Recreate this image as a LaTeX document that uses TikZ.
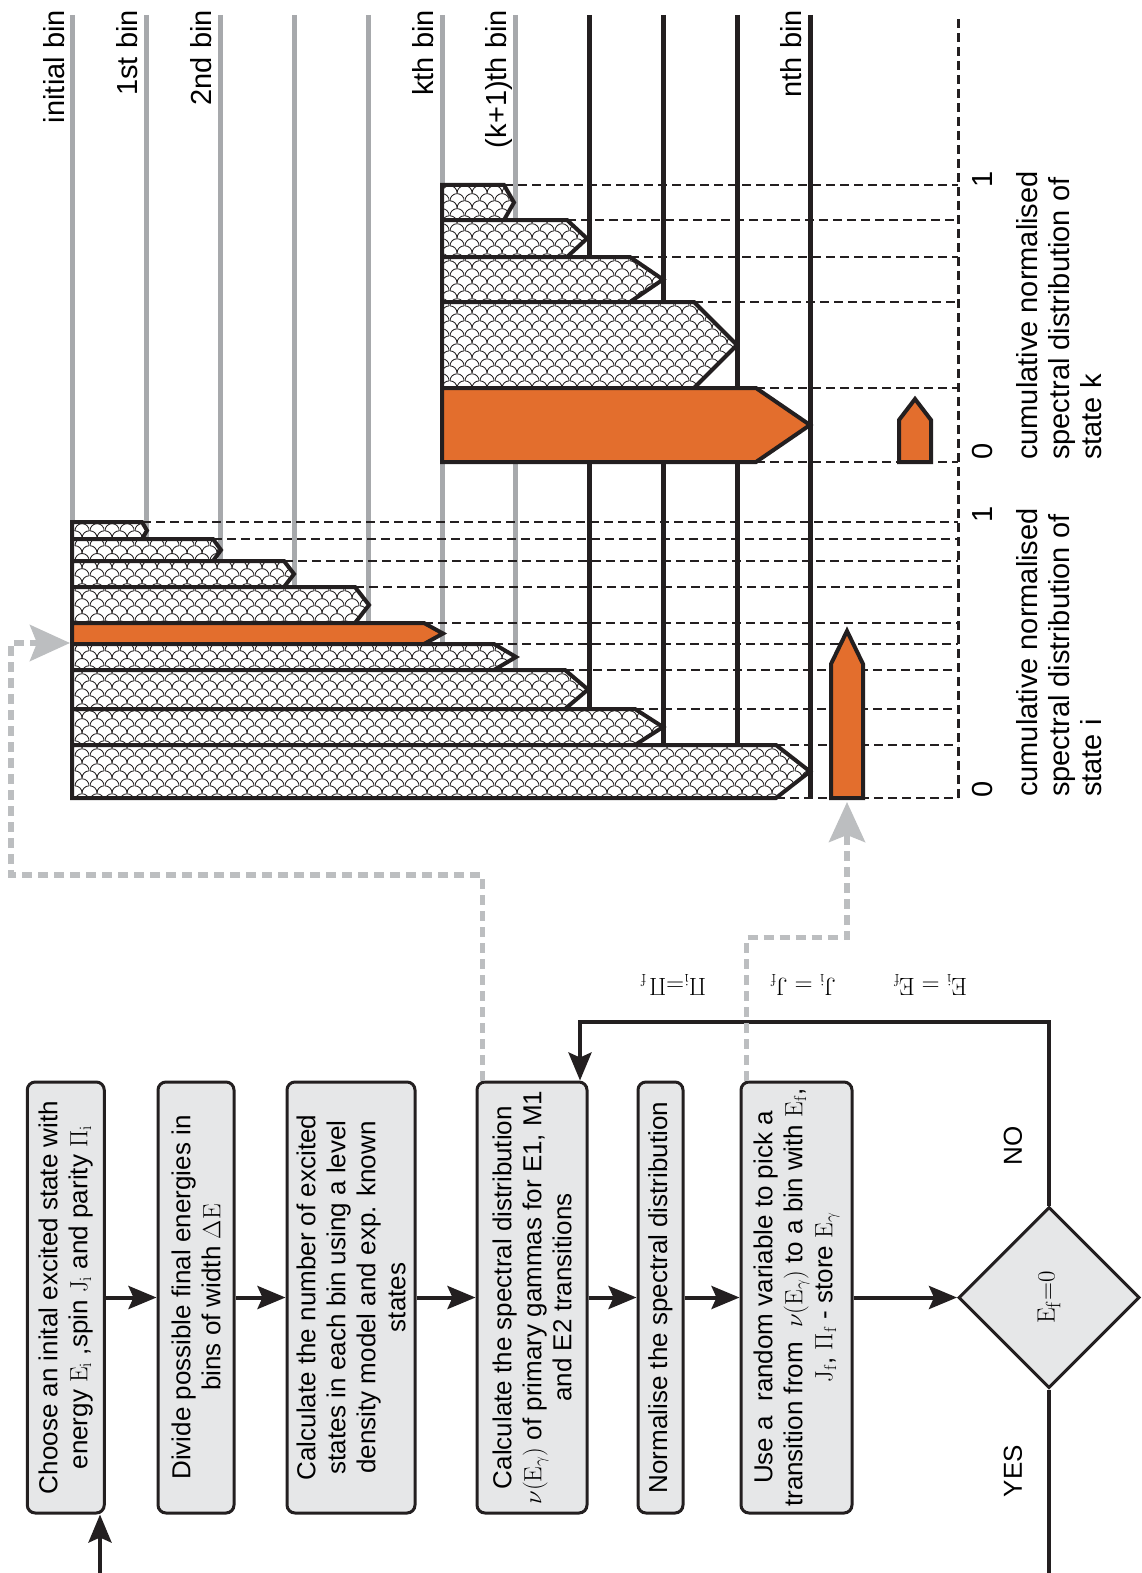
\documentclass[tikz,border=0pt]{standalone}
\usepackage[no-math]{fontspec}
\setsansfont{Liberation Sans}
\usetikzlibrary{arrows.meta,shapes.geometric,patterns.meta}

\definecolor{ink}{RGB}{35,31,32}
\definecolor{boxgray}{RGB}{230,231,232}
\definecolor{bingray}{RGB}{167,169,172}
\definecolor{feedgray}{RGB}{188,190,192}
\definecolor{spec}{RGB}{227,110,45}

\tikzdeclarepattern{
  name=scales, type=uncolored,
  bounding box={(0pt,0pt) and (15pt,15pt)},
  tile size={(15pt,15pt)},
  code={
    \draw[line width=0.9pt] (7.5pt,0pt) arc[start angle=0, end angle=90, radius=7.5pt];
    \draw[line width=0.9pt] (15pt,7.5pt) arc[start angle=90, end angle=180, radius=7.5pt];
    \draw[line width=0.9pt] (15pt,7.5pt) arc[start angle=0, end angle=180, radius=7.5pt];
  }
}

\tikzset{
  procbox/.style  = {shape=rectangle, rounded corners=8pt, draw=ink, line width=3pt,
                     fill=boxgray, align=center, rotate=90, inner sep=3pt,
                     minimum width=431pt, font=\sffamily\fontsize{26}{30}\selectfont},
  decision/.style = {shape=diamond, draw=ink, line width=3pt, fill=boxgray,
                     minimum width=181pt, minimum height=181pt, inner sep=0pt,
                     font=\fontsize{30}{34}\selectfont},
  flow/.style     = {draw=ink, line width=4pt, -{Stealth[length=28pt,width=23pt,inset=5pt]}},
  feed/.style     = {draw=feedgray, line width=5.5pt, dash pattern=on 10pt off 6pt,
                     -{Stealth[length=40pt,width=36pt,inset=7pt]}},
  binline/.style  = {draw=bingray, line width=5pt},
  fullbin/.style  = {draw=ink, line width=5pt},
  cutline/.style  = {draw=ink, line width=2.5pt, dash pattern=on 9pt off 5pt},
  hatchbar/.style = {draw=ink, line width=4pt, preaction={fill=white},
                     pattern=scales, pattern color=ink},
  pickbar/.style  = {draw=ink, line width=4pt, fill=spec},
  lbl/.style      = {rotate=90, inner sep=0pt, font=\sffamily\fontsize{29}{32}\selectfont},
  eqlbl/.style    = {rotate=180, inner sep=0pt, font=\fontsize{27}{30}\selectfont}
}

\begin{document}
\begin{tikzpicture}[x=1pt, y=-1pt]
  \useasboundingbox (0,0) rectangle (1141,1573);

  % bins
  \foreach \x in {72,146,220,294,368,442,515}
    \draw[binline] (\x,15) -- (\x,798);
  \foreach \x in {589,663,737,810}
    \draw[fullbin] (\x,15) -- (\x,798);
  \node[lbl, anchor=base east] (initbin) at (64,10)  {initial bin};
  \node[lbl, anchor=base east] (bin1)    at (137,10) {1st bin};
  \node[lbl, anchor=base east] (bin2)    at (211,10) {2nd bin};
  \node[lbl, anchor=base east] (bink)    at (433,10) {kth bin};
  \node[lbl, anchor=base east] (binkp)   at (506,10) {(k+1)th bin};
  \node[lbl, anchor=base east] (binn)    at (801,10) {nth bin};

  % spectral distribution of state i
  \foreach \ya/\yb/\xr/\xt/\kind in {522/539/142/147/hatchbar, 539/561/213/221/hatchbar,
      561/587/284/294/hatchbar, 587/623/355/369/hatchbar, 623/644/424/443/pickbar,
      644/670/494/516/hatchbar, 670/709/565/588/hatchbar, 709/745/635/663/hatchbar,
      745/798/776/810/hatchbar}
  {
    \draw[cutline] (\xr,\ya) -- (958,\ya);
    \draw[\kind] (72,\ya) -- (\xr,\ya) -- (\xt,{(\ya+\yb)/2}) -- (\xr,\yb) -- (72,\yb) -- cycle;
  }
  \draw[cutline] (776,798) -- (958,798);

  % spectral distribution of state k
  \foreach \ya/\yb/\xr/\xt/\kind in {185/220/504/514/hatchbar, 220/257/567/587/hatchbar,
      257/302/630/663/hatchbar, 302/388/694/737/hatchbar, 388/462/756/810/pickbar}
  {
    \draw[cutline] (\xr,\ya) -- (958,\ya);
    \draw[\kind] (442,\ya) -- (\xr,\ya) -- (\xt,{(\ya+\yb)/2}) -- (\xr,\yb) -- (442,\yb) -- cycle;
  }
  \draw[cutline] (756,462) -- (958,462);

  \draw[pickbar] (831,798) -- (831,664) -- (847,631) -- (863,664) -- (863,798) -- cycle;
  \draw[pickbar] (899,462) -- (899,420) -- (915,399) -- (931,420) -- (931,462) -- cycle;

  \draw[cutline, line width=3pt] (958,798) -- (958,17);
  \node[lbl, anchor=base] (zeroi) at (992,789) {0};
  \node[lbl, anchor=base] (onei)  at (992,514) {1};
  \node[lbl, anchor=base] (zerok) at (992,451) {0};
  \node[lbl, anchor=base] (onek)  at (992,179) {1};
  \node[lbl, anchor=north west, align=left] (capi) at (1016,797)
    {cumulative normalised\\spectral distribution of\\state i};
  \node[lbl, anchor=north west, align=left] (capk) at (1016,460)
    {cumulative normalised\\spectral distribution of\\state k};

  % flow chart
  \node[procbox, minimum height=77pt]  (b1) at (65.75,1297.5)
    {Choose an inital excited state with\\energy $\mathrm{E}_\mathrm{i}$ ,spin $\mathrm{J}_\mathrm{i}$ and parity $\Pi_\mathrm{i}$};
  \node[procbox, minimum height=76pt]  (b2) at (196,1297.5)
    {Divide possible final energies in\\bins of width $\Delta\mathrm{E}$};
  \node[procbox, minimum height=128pt] (b3) at (351,1297.5)
    {Calculate the number of excited\\states in each bin using a level\\density model and exp. known\\states};
  \node[procbox, minimum height=110pt] (b4) at (532,1297.5)
    {Calculate the spectral distribution\\$\nu(\mathrm{E}_\gamma)$ of primary gammas for E1, M1\\and E2 transitions};
  \node[procbox, minimum height=45pt]  (b5) at (660.5,1297.5)
    {Normalise the spectral distribution};
  \node[procbox, minimum height=111pt] (b6) at (796.5,1297.5)
    {Use a~ random variable to pick a\\transition from~ $\nu(\mathrm{E}_\gamma)$ to a bin with $\mathrm{E}_\mathrm{f}$,\\$\mathrm{J}_\mathrm{f}$, $\Pi_\mathrm{f}$ - store $\mathrm{E}_\gamma$};
  \node[decision] (dec) at (1049,1297.5) {\rotatebox{90}{$\mathrm{E}_\mathrm{f}{=}0$}};

  \draw[flow] (b1) -- (b2);
  \draw[flow] (b2) -- (b3);
  \draw[flow] (b3) -- (b4);
  \draw[flow] (b4) -- (b5);
  \draw[flow] (b5) -- (b6);
  \draw[flow] (b6) -- (dec);

  \coordinate (ret) at (580,1022);
  \draw[flow] (dec.north) |- (ret) -- (ret |- b4.east);
  \node[eqlbl] (eqE) at (930,985) {$\mathrm{E}_\mathrm{i} = \mathrm{E}_\mathrm{f}$};
  \node[eqlbl] (eqJ) at (803,985) {$\mathrm{J}_\mathrm{i} = \mathrm{J}_\mathrm{f}$};
  \node[eqlbl] (eqP) at (673,985) {$\Pi_\mathrm{i}{=}\Pi_{\,\mathrm{f}}$};
  \node[lbl, font=\sffamily\fontsize{26}{30}\selectfont] (no)  at (1013,1146) {NO};
  \node[lbl, font=\sffamily\fontsize{26}{30}\selectfont] (yes) at (1013,1471) {YES};

  \coordinate (exit)  at (1049,1573);
  \coordinate (entry) at (100,1573);
  \draw[draw=ink, line width=4pt] (dec.south) -- (exit);
  \draw[flow] (entry) -- (entry |- b1.west);

  % feeding the distributions
  \coordinate (inI)  at (70,643);
  \coordinate (pick) at (847,802);
  \draw[feed] ([xshift=7pt]b4.north east) |- (11,875) |- (inI);
  \draw[feed] ([xshift=7pt]b6.north east) -- ++(0,-143) -| (pick);
\end{tikzpicture}
\end{document}
